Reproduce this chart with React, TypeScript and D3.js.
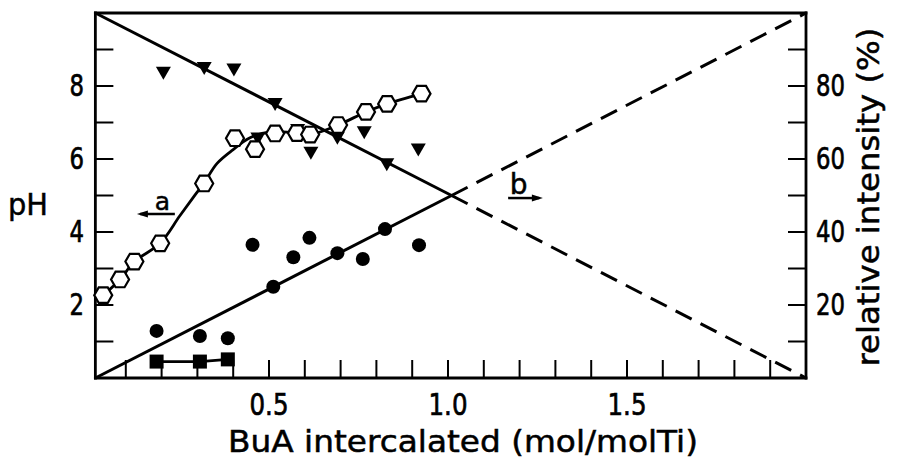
import React from 'react';
import * as d3 from 'd3';

// ---- data ----
const xMin = 0.015;
const xMax = 2.0;
const xTicks = [0.1, 0.2, 0.3, 0.4, 0.5, 0.6, 0.7, 0.8, 0.9, 1.0, 1.1, 1.2, 1.3, 1.4, 1.5, 1.6, 1.7, 1.8, 1.9];
const xTickLabelValues = [0.5, 1.0, 1.5];
const xTickLabels = ['0.5', '1.0', '1.5'];
const phTicks = [1, 2, 3, 4, 5, 6, 7, 8, 9];
const phLabels = [2, 4, 6, 8];
const pctTicks = [10, 20, 30, 40, 50, 60, 70, 80, 90];
const pctLabels = [20, 40, 60, 80];

// curve a: pH (open hexagons)
const hexX = [0.037, 0.084, 0.124, 0.196, 0.319, 0.405, 0.461, 0.517, 0.578, 0.615, 0.693, 0.771, 0.83, 0.926];
const hexPH = [2.27, 2.7, 3.19, 3.69, 5.33, 6.57, 6.27, 6.7, 6.71, 6.67, 6.93, 7.29, 7.51, 7.79];
// smooth curve drawn through the hexagons
const curveAX = [0.037, 0.084, 0.124, 0.196, 0.25, 0.29, 0.319, 0.355, 0.399, 0.447, 0.503, 0.578, 0.615, 0.693, 0.771, 0.83, 0.926];
const curveAPH = [2.27, 2.7, 3.19, 3.69, 4.43, 4.97, 5.35, 5.88, 6.25, 6.58, 6.74, 6.71, 6.67, 6.93, 7.29, 7.51, 7.79];

// filled squares: pH
const sqX = [0.186, 0.307, 0.385];
const sqPH = [0.45, 0.45, 0.51];

// relative intensity (%): filled circles and filled triangles
const circX = [0.186, 0.307, 0.385, 0.454, 0.512, 0.568, 0.613, 0.691, 0.762, 0.824, 0.919];
const circPct = [12.9, 11.5, 10.9, 36.5, 25.0, 33.1, 38.4, 34.2, 32.6, 40.8, 36.4];
const triX = [0.205, 0.319, 0.402, 0.469, 0.517, 0.58, 0.617, 0.691, 0.766, 0.829, 0.917];
const triPct = [83.5, 84.8, 84.4, 65.5, 74.9, 67.8, 61.6, 65.7, 67.2, 58.4, 62.5];

// lines b (relative intensity)
const lineBX = [xMin, 1.01, xMax];
const fallPct = [100, 50, 0];
const risePct = [0, 50, 100];

const W = 902;
const H = 467;

function labelLen(s: string) {
  let w = 0;
  for (const c of s) w += c === '.' ? 10 : 14.5;
  return w;
}

export default function App() {
  const x = d3.scaleLinear().domain([0, 2]).range([90, 806]);
  const yPH = d3.scaleLinear().domain([0, 10]).range([378, 13]);
  const yPct = d3.scaleLinear().domain([0, 100]).range([378, 13]);

  const left = x(xMin);
  const right = x(xMax);
  const top = yPH(10);
  const bottom = yPH(0);

  const lineGen = d3.line<[number, number]>().x(d => d[0]).y(d => d[1]);

  const fallSolid = lineGen(lineBX.slice(0, 2).map((v, i) => [x(v), yPct(fallPct[i])]));
  const fallDash = lineGen(lineBX.slice(1, 3).map((v, i) => [x(v), yPct(fallPct[i + 1])]));
  const riseSolid = lineGen(lineBX.slice(0, 2).map((v, i) => [x(v), yPct(risePct[i])]));
  const riseDash = lineGen(lineBX.slice(1, 3).map((v, i) => [x(v), yPct(risePct[i + 1])]));

  const curveA = d3
    .line<[number, number]>()
    .x(d => d[0])
    .y(d => d[1])
    .curve(d3.curveCatmullRom.alpha(0.5))(curveAX.map((v, i) => [x(v), yPH(curveAPH[i])]));
  const sqLine = lineGen(sqX.map((v, i) => [x(v), yPH(sqPH[i])]));

  const hexR = 9;
  const hexPath = d3.range(6)
    .map(k => {
      const a = (Math.PI / 3) * k;
      return `${k === 0 ? 'M' : 'L'}${(hexR * Math.cos(a)).toFixed(2)},${(hexR * Math.sin(a)).toFixed(2)}`;
    })
    .join('') + 'Z';
  const triW = 15;
  const triH = 13;
  const triPath = `M${-triW / 2},${-triH / 2}L${triW / 2},${-triH / 2}L0,${triH / 2}Z`;

  const tickFont = "'DejaVu Sans', sans-serif";
  const textFont = "'DejaVu Sans', sans-serif";

  return (
    <svg width={W} height={H} style={{ position: 'absolute', left: 0, top: 0, background: '#fff' }}>
      <rect x={0} y={0} width={W} height={H} fill="#fff" />
      {/* frame */}
      <g stroke="#000" strokeWidth={2.8} fill="none" strokeLinecap="square">
        <line x1={left} y1={top} x2={right} y2={top} />
        <line x1={left} y1={top} x2={left} y2={bottom} />
        <line x1={right} y1={top} x2={right} y2={bottom} />
        <line x1={left} y1={bottom} x2={right} y2={bottom} />
      </g>
      {/* ticks */}
      <g stroke="#000" strokeWidth={2}>
        {xTicks.map(t => (
          <line key={'xt' + t} x1={x(t)} x2={x(t)} y1={bottom} y2={bottom - 18} />
        ))}
        {phTicks.map(t => (
          <line key={'lt' + t} x1={left} x2={left + 18} y1={yPH(t)} y2={yPH(t)} />
        ))}
        {pctTicks.map(t => (
          <line key={'rt' + t} x1={right} x2={right - 18} y1={yPct(t)} y2={yPct(t)} />
        ))}
      </g>
      {/* tick labels */}
      <g fontFamily={tickFont} fontSize={30} fill="#000" stroke="#000" strokeWidth={0.7}>
        {xTickLabelValues.map((t, i) => (
          <text
            key={'xl' + t}
            x={x(t) - labelLen(xTickLabels[i]) / 2}
            y={415}
            textLength={labelLen(xTickLabels[i])}
            lengthAdjust="spacingAndGlyphs"
          >
            {xTickLabels[i]}
          </text>
        ))}
        {phLabels.map(t => (
          <text
            key={'pl' + t}
            x={84 - labelLen(String(t))}
            y={yPH(t) + 10}
            textLength={labelLen(String(t))}
            lengthAdjust="spacingAndGlyphs"
          >
            {t}
          </text>
        ))}
        {pctLabels.map(t => (
          <text
            key={'rl' + t}
            x={816}
            y={yPct(t) + 10}
            textLength={labelLen(String(t))}
            lengthAdjust="spacingAndGlyphs"
          >
            {t}
          </text>
        ))}
      </g>
      {/* axis titles */}
      <g fontFamily={textFont} fontSize={30} fill="#000" stroke="#000" strokeWidth={0.5}>
        <text x={228} y={452} textLength={470} lengthAdjust="spacingAndGlyphs">
          BuA intercalated (mol/molTi)
        </text>
        <text x={8} y={215} fontSize={31} textLength={40} lengthAdjust="spacingAndGlyphs">
          pH
        </text>
        <text
          transform="translate(879,197) rotate(-90)"
          textAnchor="middle"
          textLength={339}
          lengthAdjust="spacingAndGlyphs"
        >
          relative intensity (%)
        </text>
      </g>

      {/* lines b */}
      <g stroke="#000" strokeWidth={3} fill="none">
        <path d={fallSolid || ''} />
        <path d={riseSolid || ''} />
        <path d={fallDash || ''} strokeDasharray="18 10" />
        <path d={riseDash || ''} strokeDasharray="18 10" />
      </g>
      {/* curve a and square line */}
      <g stroke="#000" strokeWidth={2.8} fill="none">
        <path d={curveA || ''} />
        <path d={sqLine || ''} />
      </g>

      {/* markers */}
      <g fill="#000">
        {sqX.map((v, i) => (
          <rect key={'sq' + i} x={x(v) - 7} y={yPH(sqPH[i]) - 7} width={14} height={14} />
        ))}
        {circX.map((v, i) => (
          <circle key={'c' + i} cx={x(v)} cy={yPct(circPct[i])} r={7} />
        ))}
        {triX.map((v, i) => (
          <path key={'t' + i} d={triPath} transform={`translate(${x(v)},${yPct(triPct[i])})`} />
        ))}
      </g>
      <g fill="#fff" stroke="#000" strokeWidth={2.2}>
        {hexX.map((v, i) => (
          <path key={'h' + i} d={hexPath} transform={`translate(${x(v)},${yPH(hexPH[i])})`} />
        ))}
      </g>

      {/* annotations a and b */}
      <g fontFamily={textFont} fill="#000" stroke="#000" strokeWidth={0.5}>
        <text x={x(0.2025)} y={yPH(4.6)} fontSize={25} textAnchor="middle">a</text>
        <text x={x(1.197)} y={yPct(50.4)} fontSize={28} textAnchor="middle">b</text>
      </g>
      <g fill="#000">
        <line x1={x(0.14)} x2={x(0.237)} y1={yPH(4.49)} y2={yPH(4.49)} stroke="#000" strokeWidth={2.5} />
        <path d={`M${x(0.131)},${yPH(4.49)}l11,-3.5l0,7Z`} />
        <line x1={x(1.168)} x2={x(1.255)} y1={yPct(49.3)} y2={yPct(49.3)} stroke="#000" strokeWidth={2.5} />
        <path d={`M${x(1.265)},${yPct(49.3)}l-11,-3.5l0,7Z`} />
      </g>
    </svg>
  );
}
